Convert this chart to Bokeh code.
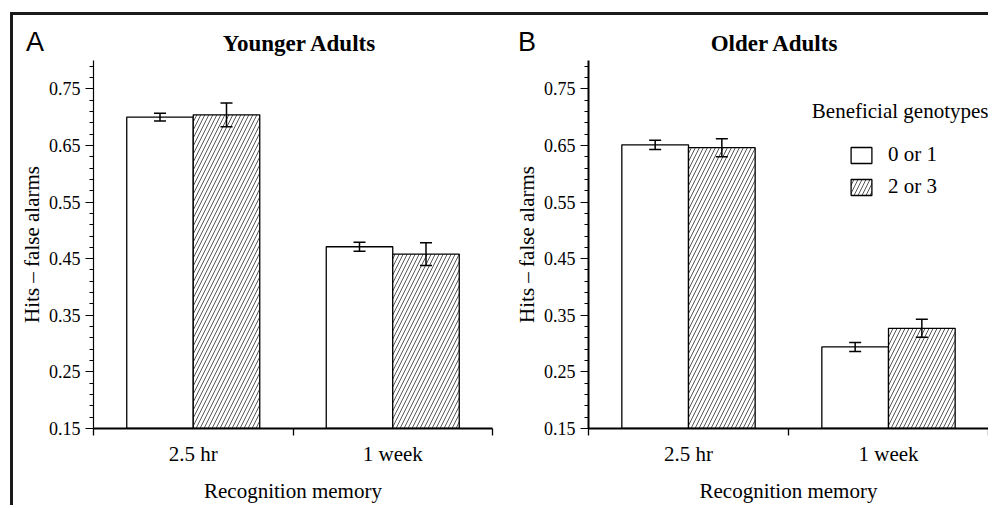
from bokeh.plotting import figure
from bokeh.models import (FactorRange, Range1d, LinearAxis, FixedTicker, ColumnDataSource,
                          Whisker, TeeHead, Label, Legend, LegendItem, NumeralTickFormatter, Div)
from bokeh.transform import dodge
from bokeh.layouts import row, column
from bokeh.embed import file_html
from bokeh.resources import INLINE

# ---------------- data ----------------
categories = ["2.5 hr", "1 week"]
groups = ["0 or 1", "2 or 3"]

young_low = [0.700, 0.471]
young_low_err = [0.007, 0.008]
young_high = [0.704, 0.458]
young_high_err = [0.021, 0.020]

old_low = [0.651, 0.294]
old_low_err = [0.008, 0.008]
old_high = [0.646, 0.327]
old_high_err = [0.016, 0.016]

y_start, y_end = 0.15, 0.80
major_ticks = [0.15, 0.25, 0.35, 0.45, 0.55, 0.65, 0.75]
minor_ticks = [round(0.15 + 0.02 * k, 2) for k in range(33)]

SERIF = "Liberation Serif"
SANS = "Liberation Sans"
HEAD_H = 45
H = 445


def make_header(letter, title, width, letter_x, title_cx):
    html = (
        f'<div style="position:relative;width:{width}px;height:{HEAD_H}px;margin:0;padding:0;">'
        f'<span style="position:absolute;left:{letter_x}px;top:14px;font-family:\'{SANS}\';'
        f'font-size:27px;line-height:1;color:black;white-space:nowrap;">{letter}</span>'
        f'<span style="position:absolute;left:0;width:{2 * title_cx}px;top:17px;text-align:center;'
        f'font-family:\'{SERIF}\';font-weight:bold;font-size:23px;line-height:1;color:black;'
        f'white-space:nowrap;">{title}</span>'
        f'</div>'
    )
    return Div(text=html, width=width, height=HEAD_H, margin=0,
               styles={"overflow": "visible"})


def make_panel(low, low_err, high, high_err, width, mb_left, mb_right, yaxis_w, legend=False):
    p = figure(x_range=FactorRange(factors=categories, range_padding=0),
               y_range=Range1d(y_start, y_end), title=None,
               width=width, height=H, x_axis_type=None, y_axis_type=None,
               toolbar_location=None, output_backend="svg",
               min_border_left=mb_left, min_border_right=mb_right,
               min_border_top=0, min_border_bottom=76)
    p.outline_line_color = None
    p.xgrid.visible = False
    p.ygrid.visible = False
    p.background_fill_color = "white"
    p.border_fill_color = "white"

    src = ColumnDataSource(dict(
        cat=categories, low=low, high=high,
        low_up=[v + e for v, e in zip(low, low_err)],
        low_lo=[v - e for v, e in zip(low, low_err)],
        high_up=[v + e for v, e in zip(high, high_err)],
        high_lo=[v - e for v, e in zip(high, high_err)],
    ))

    r_low = p.vbar(x=dodge("cat", -1 / 6, range=p.x_range), top="low", bottom=y_start,
                   width=1 / 3, source=src, fill_color="white",
                   line_color="black", line_width=1.3)
    r_high = p.vbar(x=dodge("cat", 1 / 6, range=p.x_range), top="high", bottom=y_start,
                    width=1 / 3, source=src, fill_color="white",
                    line_color="black", line_width=1.3,
                    hatch_pattern="/", hatch_scale=8, hatch_weight=0.9, hatch_color="#444444")

    for off, up, lo in ((-1 / 6, "low_up", "low_lo"), (1 / 6, "high_up", "high_lo")):
        w = Whisker(source=src, base=dodge("cat", off, range=p.x_range), upper=up, lower=lo,
                    line_color="black", line_width=1.5, level="overlay",
                    upper_head=TeeHead(size=12, line_width=1.5, line_color="black"),
                    lower_head=TeeHead(size=12, line_width=1.5, line_color="black"))
        p.add_layout(w)

    # y axis
    yax = LinearAxis(ticker=FixedTicker(ticks=major_ticks, minor_ticks=minor_ticks),
                     formatter=NumeralTickFormatter(format="0.00"),
                     axis_label="Hits \u2013 false alarms",
                     axis_label_text_font=SERIF, axis_label_text_font_size="21px",
                     axis_label_text_font_style="normal", axis_label_text_color="black",
                     axis_label_standoff=2,
                     major_label_text_font=SERIF, major_label_text_font_size="18px",
                     major_label_text_color="black", major_label_standoff=5,
                     major_tick_in=0, major_tick_out=8, minor_tick_in=0, minor_tick_out=4,
                     axis_line_width=yaxis_w, axis_line_color="black",
                     major_tick_line_color="black", minor_tick_line_color="black")
    p.add_layout(yax, "left")

    # x axis: labels at category centres, tick marks at category boundaries
    xax = LinearAxis(ticker=FixedTicker(ticks=[i + 0.5 for i in range(len(categories))],
                                        minor_ticks=list(range(len(categories) + 1))),
                     major_label_overrides={i + 0.5: c for i, c in enumerate(categories)},
                     axis_label="Recognition memory",
                     axis_label_text_font=SERIF, axis_label_text_font_size="21px",
                     axis_label_text_font_style="normal", axis_label_text_color="black",
                     axis_label_standoff=10,
                     major_label_text_font=SERIF, major_label_text_font_size="21px",
                     major_label_text_color="black", major_label_standoff=6,
                     major_tick_line_color=None, major_tick_in=0, major_tick_out=7,
                     minor_tick_in=0, minor_tick_out=7, minor_tick_line_color="black",
                     minor_tick_line_width=1.3,
                     axis_line_width=2, axis_line_color="black")
    p.add_layout(xax, "below")

    if legend:
        p.add_layout(Label(x=len(categories), y=y_end, x_offset=0, y_offset=-50,
                           text="Beneficial genotypes", text_font=SERIF,
                           text_font_size="21px", text_align="right",
                           text_baseline="middle", text_color="black"))
        lg = Legend(items=[LegendItem(label=groups[0], renderers=[r_low]),
                           LegendItem(label=groups[1], renderers=[r_high])],
                    location=(260, 229), padding=0, margin=0, spacing=7,
                    glyph_width=26, glyph_height=20, label_height=25, label_standoff=14,
                    label_text_font=SERIF, label_text_font_size="21px",
                    label_text_color="black",
                    border_line_color=None, background_fill_alpha=0)
        p.add_layout(lg)
    return p


hA = make_header("A", "Younger Adults", 483, 13, 286)
pA = make_panel(young_low, young_low_err, young_high, young_high_err,
                width=483, mb_left=80, mb_right=4, yaxis_w=1.2)
hB = make_header("B", "Older Adults", 492, 22, 278)
pB = make_panel(old_low, old_low_err, old_high, old_high_err,
                width=492, mb_left=92, mb_right=0, yaxis_w=2, legend=True)

layout = row(column(hA, pA), column(hB, pB), margin=(12, 0, 0, 10),
             styles={"border-top": "3px solid #1a1a1a", "border-left": "3px solid #1a1a1a"})

open("out.html", "w").write(file_html(layout, INLINE))
